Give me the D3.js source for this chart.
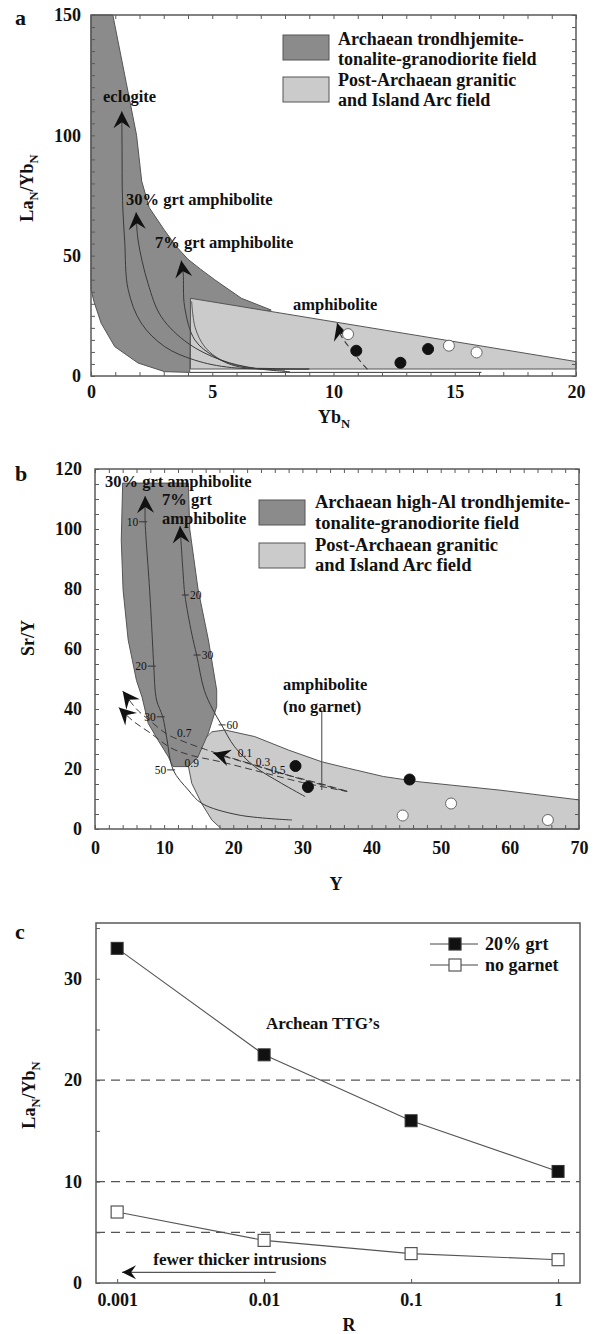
<!DOCTYPE html>
<html><head><meta charset="utf-8">
<script src="https://cdn.jsdelivr.net/npm/d3@7"></script>
<style>
body{margin:0;background:#fff}
svg text{font-family:"Liberation Serif","Times New Roman",serif;fill:#111}
</style></head><body>
<svg id="fig" width="598" height="1334"></svg>
<script>
// ---------- Panel a : LaN/YbN vs YbN ----------
const aXTicks = [0, 5, 10, 15, 20];
const aYTicks = [0, 50, 100, 150];
const aArchaeanField = [[0,150],[0.9,150],[1.45,122],[1.88,100],[2.09,81],[2.4,70],[3.0,61],[3.5,54],[4.0,48.5],[4.5,44.5],[5.1,40],[6.2,32.3],[7.43,27.4],[4.1,20],[4.07,1.5],[3.04,1.8],[1.94,5.4],[0.98,12.2],[0.42,21.9],[0.12,31],[0,36]];
const aPostArchaeanField = [[4.1,32.3],[20,6],[20,2.9],[4.1,2.9]];
const aBaseLine = [[4.07,1.5],[16.1,1.5]];
const aEclogite = [[1.27,110],[1.28,95],[1.3,73],[1.39,56],[1.53,36],[2.07,22],[3.04,12.2],[4.28,6.6],[5.8,3.5],[9,2.9]];
const aGrt30 = [[1.86,68],[1.94,56.5],[2.35,38.5],[2.9,24.6],[4.0,13.6],[5.37,6.6],[6.75,3.2],[8.2,1.8]];
const aGrt7 = [[3.72,48],[3.8,42.8],[3.86,28.8],[4.28,15],[5.1,8],[6.06,3.9],[7.5,3.1],[9,2.9]];
const aInner = [[4.15,31],[4.3,20],[4.7,12],[5.4,6.5],[6.5,3.5],[8,2.4]];
const aAmphibolite = [[10.15,22],[10.3,17],[10.8,10],[11.2,5],[11.5,1.8]];
const aFilledX = [10.94, 12.76, 13.9], aFilledY = [10.5, 5.5, 11.2];
const aOpenX = [10.6, 14.76, 15.9], aOpenY = [17.4, 12.6, 9.8];

// ---------- Panel b : Sr/Y vs Y ----------
const bXTicks = [0, 10, 20, 30, 40, 50, 60, 70];
const bYTicks = [0, 20, 40, 60, 80, 100, 120];
const bArchaeanField = [[4.0,115.3],[13.5,115.3],[13.7,100],[14.9,80],[16.4,63],[17.6,46.3],[17.6,40.8],[16.4,32],[14.9,24.1],[13.5,20.8],[11.3,20.8],[10.6,24.1],[9.1,29.7],[7.7,35.2],[6.8,44],[6.0,49.5],[4.8,63],[4.06,79.7],[3.8,96.3]];
const bPostArchaeanField = [[13.5,21],[14.5,27],[16.9,32.4],[18.8,33],[23.1,30.8],[28,26.3],[32.8,22.4],[36.7,20.2],[41.7,17.5],[47,15.7],[58.4,13],[70,9.7],[70,0],[18.3,0],[16.9,3],[15.4,8.6],[14,15.2]];
const bGrt30 = [[7.25,111],[7.25,102.4],[7.4,96.3],[7.9,79.7],[8.3,63],[8.5,54.3],[8.9,43],[9.8,37.4],[10.4,30],[11.3,19.7],[13.5,13],[15.4,8.6],[20.7,4.7],[28.5,3]];
const bGrt7 = [[12.3,101],[12.75,85],[13.0,78],[14.0,65],[14.7,58],[15.8,46.3],[17,40],[18.3,34.7],[20.2,27.4],[23.1,20.8],[27,15.2],[30.4,10.8]];
const bDash1 = [[4.0,46],[6,40],[8,36],[10.5,31.5],[13,29],[16,26.5],[20,23.5],[25,20],[30,16.5],[36.5,12.5]];
const bDash2 = [[3.45,40.5],[5.5,36],[8,32],[11,27],[14,24.5],[18,22.5],[24,19],[30,15.5],[36.5,12.5]];
const bDash3 = [[17.1,25.3],[22,22],[27,18.5],[32,15.5],[36.7,12.4]];
const bGrt30Marks = [["10",7.25,102.4],["20",8.5,54.3],["30",9.8,37.4],["50",11.3,19.7]];
const bGrt7Marks = [["20",13.0,78],["30",14.7,58],["60",18.3,34.7]];
const bMeltLabels = [["0.7",12.9,32],["0.9",14,22],["0.1",21.7,25.2],["0.3",24.3,22.4],["0.5",26.5,19.7]];
const bFilledX = [29, 30.8, 45.5], bFilledY = [21, 14, 16.5];
const bOpenX = [44.5, 51.5, 65.5], bOpenY = [4.5, 8.5, 3];

// ---------- Panel c : LaN/YbN vs R ----------
const cR = [0.001, 0.01, 0.1, 1];
const cRLabels = ["0.001", "0.01", "0.1", "1"];
const cYTicks = [0, 10, 20, 30];
const cGrt20 = [33, 22.5, 16, 11];
const cNoGarnet = [7, 4.2, 2.9, 2.3];
const cRefLines = [5, 10, 20];

const DARK = "#8b8b8b", LIGHT = "#cbcbcb", EDGE = "#555", FRAME = "#5a5a5a", INK = "#111";
const svg = d3.select("#fig");

function minorTicks(g, scale, orient, pos, values, size) {
  const ax = {bottom: d3.axisBottom, top: d3.axisTop, left: d3.axisLeft, right: d3.axisRight}[orient](scale)
    .tickValues(values).tickSize(-size).tickSizeOuter(0).tickFormat("");
  const t = (orient === "bottom" || orient === "top") ? `translate(0,${pos})` : `translate(${pos},0)`;
  const a = g.append("g").attr("transform", t).call(ax);
  a.select(".domain").remove();
  a.selectAll("line").attr("stroke", FRAME).attr("stroke-width", 1);
}
function labelAxis(g, scale, orient, pos, values, fmt, pad) {
  const ax = (orient === "bottom" ? d3.axisBottom : d3.axisLeft)(scale)
    .tickValues(values).tickSize(0).tickPadding(pad).tickFormat(fmt);
  const t = orient === "bottom" ? `translate(0,${pos})` : `translate(${pos},0)`;
  const a = g.append("g").attr("transform", t).call(ax);
  a.select(".domain").remove();
  a.selectAll("text").attr("font-size", 18).attr("font-weight", "bold")
    .attr("font-family", '"Liberation Serif",serif').attr("fill", INK);
}
function frame(g, x, y) {
  g.append("rect").attr("x", x.range()[0]).attr("y", y.range()[1])
    .attr("width", x.range()[1] - x.range()[0]).attr("height", y.range()[0] - y.range()[1])
    .attr("fill", "none").attr("stroke", FRAME).attr("stroke-width", 1.5);
}
function rich(g, parts, size) {
  const t = g.append("text").attr("font-size", size).attr("font-weight", "bold").attr("text-anchor", "middle");
  let down = false;
  parts.forEach(([s, sub]) => {
    const ts = t.append("tspan").text(s);
    if (sub) { ts.attr("font-size", size * 0.7); if (!down) { ts.attr("dy", 5); down = true; } }
    else if (down) { ts.attr("dy", -5); down = false; }
  });
  return t;
}
function chevron(g, x, y, tip, from) {
  const tx = x(tip[0]), ty = y(tip[1]), fx = x(from[0]), fy = y(from[1]);
  const ang = Math.atan2(tx - fx, -(ty - fy)) * 180 / Math.PI;
  g.append("path").attr("d", "M0,0 L8.5,17 L0,11 L-8.5,17Z")
    .attr("transform", `translate(${tx},${ty}) rotate(${ang})`).attr("fill", INK);
}
function poly(g, x, y, pts, fill) {
  g.append("path").attr("d", d3.line().x(d => x(d[0])).y(d => y(d[1])).curve(d3.curveLinearClosed)(pts))
    .attr("fill", fill).attr("stroke", EDGE).attr("stroke-width", 1);
}
function curve(g, x, y, pts, dash, w) {
  g.append("path").attr("d", d3.line().x(d => x(d[0])).y(d => y(d[1])).curve(d3.curveCatmullRom.alpha(0.5))(pts))
    .attr("fill", "none").attr("stroke", "#3a3a3a").attr("stroke-width", w || 1)
    .attr("stroke-dasharray", dash || null);
}
function txt(g, s, px, py, size, opts) {
  const t = g.append("text").attr("x", px).attr("y", py).attr("font-size", size).text(s);
  t.attr("font-weight", (opts && opts.normal) ? "normal" : "bold");
  if (opts && opts.anchor) t.attr("text-anchor", opts.anchor);
  return t;
}
function dots(g, x, y, xs, ys, filled) {
  g.selectAll(null).data(xs.map((v, i) => [v, ys[i]])).join("circle")
    .attr("cx", d => x(d[0])).attr("cy", d => y(d[1])).attr("r", 5.5)
    .attr("fill", filled ? INK : "#fff").attr("stroke", filled ? INK : "#666").attr("stroke-width", 1);
}
function legendBox(g, bx, by, fill) {
  g.append("rect").attr("x", bx).attr("y", by).attr("width", 46).attr("height", 25)
    .attr("fill", fill).attr("stroke", EDGE).attr("stroke-width", 1);
}

// ================= Panel a =================
{
  const g = svg.append("g");
  const x = d3.scaleLinear().domain([0, 20]).range([91, 576]);
  const y = d3.scaleLinear().domain([0, 150]).range([376, 15]);
  poly(g, x, y, aArchaeanField, DARK);
  poly(g, x, y, aPostArchaeanField, LIGHT);
  curve(g, x, y, aBaseLine);
  curve(g, x, y, aEclogite);
  curve(g, x, y, aGrt30);
  curve(g, x, y, aGrt7);
  curve(g, x, y, aInner, null, 0.8);
  curve(g, x, y, aAmphibolite, "6,4", 1.1);
  chevron(g, x, y, aEclogite[0], aEclogite[1]);
  chevron(g, x, y, aGrt30[0], aGrt30[1]);
  chevron(g, x, y, aGrt7[0], aGrt7[1]);
  chevron(g, x, y, aAmphibolite[0], aAmphibolite[1]);
  dots(g, x, y, aOpenX, aOpenY, false);
  dots(g, x, y, aFilledX, aFilledY, true);
  frame(g, x, y);
  minorTicks(g, x, "bottom", 376, d3.range(0, 21, 1), 4);
  minorTicks(g, x, "top", 15, d3.range(0, 21, 1), 4);
  minorTicks(g, y, "left", 91, d3.range(0, 151, 5), 4);
  minorTicks(g, y, "right", 576, d3.range(0, 151, 5), 4);
  labelAxis(g, x, "bottom", 376, aXTicks, d3.format("d"), 9);
  labelAxis(g, y, "left", 91, aYTicks, d3.format("d"), 10);
  txt(g, "eclogite", 103, 102, 16.5);
  txt(g, "30% grt amphibolite", 126, 205, 16.5);
  txt(g, "7% grt amphibolite", 155, 248, 16.5);
  txt(g, "amphibolite", 293, 310, 16.5);
  legendBox(g, 283, 35, DARK);
  legendBox(g, 283, 77, LIGHT);
  txt(g, "Archaean trondhjemite-", 338, 45, 18);
  txt(g, "tonalite-granodiorite field", 338, 65, 18);
  txt(g, "Post-Archaean granitic", 338, 86, 18);
  txt(g, "and Island Arc field", 338, 106, 18);
  rich(g, [["Yb", false], ["N", true]], 18).attr("x", 334).attr("y", 423);
  rich(g, [["La", false], ["N", true], ["/Yb", false], ["N", true]], 18)
    .attr("transform", "translate(33,188) rotate(-90)");
  txt(g, "a", 15, 25, 22);
}

// ================= Panel b =================
{
  const g = svg.append("g");
  const x = d3.scaleLinear().domain([0, 70]).range([95, 579]);
  const y = d3.scaleLinear().domain([0, 120]).range([829, 469]);
  poly(g, x, y, bPostArchaeanField, LIGHT);
  poly(g, x, y, bArchaeanField, DARK);
  curve(g, x, y, bGrt30);
  curve(g, x, y, bGrt7);
  curve(g, x, y, bDash1, "7,4", 1);
  curve(g, x, y, bDash2, "7,4", 1);
  curve(g, x, y, bDash3, "7,4", 1.1);
  chevron(g, x, y, bGrt30[0], bGrt30[2]);
  chevron(g, x, y, bGrt7[0], bGrt7[1]);
  chevron(g, x, y, bDash1[0], bDash1[1]);
  chevron(g, x, y, bDash2[0], bDash2[1]);
  chevron(g, x, y, bDash3[0], bDash3[1]);
  bGrt30Marks.forEach(([s, vx, vy]) => {
    g.append("line").attr("x1", x(vx) - 6).attr("x2", x(vx) + 2).attr("y1", y(vy)).attr("y2", y(vy)).attr("stroke", "#333");
    txt(g, s, x(vx) - 7, y(vy) + 4, 11.5, {normal: true, anchor: "end"});
  });
  bGrt7Marks.forEach(([s, vx, vy]) => {
    g.append("line").attr("x1", x(vx) - 3).attr("x2", x(vx) + 4).attr("y1", y(vy)).attr("y2", y(vy)).attr("stroke", "#333");
    txt(g, s, x(vx) + 5, y(vy) + 4, 11.5, {normal: true});
  });
  bMeltLabels.forEach(([s, vx, vy]) => txt(g, s, x(vx), y(vy) + 4, 11.5, {normal: true, anchor: "middle"}));
  // leader for the amphibolite (no garnet) label
  g.append("line").attr("x1", x(32.8)).attr("x2", x(32.8)).attr("y1", y(39.5)).attr("y2", y(13))
    .attr("stroke", "#444").attr("stroke-width", 1);
  dots(g, x, y, bOpenX, bOpenY, false);
  dots(g, x, y, bFilledX, bFilledY, true);
  frame(g, x, y);
  minorTicks(g, x, "bottom", 829, d3.range(0, 71, 2), 4);
  minorTicks(g, x, "top", 469, d3.range(0, 71, 2), 4);
  minorTicks(g, y, "left", 95, d3.range(0, 121, 5), 4);
  minorTicks(g, y, "right", 579, d3.range(0, 121, 5), 4);
  labelAxis(g, x, "bottom", 829, bXTicks, d3.format("d"), 12);
  labelAxis(g, y, "left", 95, bYTicks, d3.format("d"), 13);
  txt(g, "30% grt amphibolite", 105, 487, 16.5);
  txt(g, "7% grt", 162, 505, 16.5);
  txt(g, "amphibolite", 162, 524, 16.5);
  txt(g, "amphibolite", 283, 690, 16.5);
  txt(g, "(no garnet)", 283, 712, 16.5);
  legendBox(g, 259, 500, DARK);
  legendBox(g, 259, 543, LIGHT);
  txt(g, "Archaean high-Al trondhjemite-", 315, 508, 18.5);
  txt(g, "tonalite-granodiorite field", 315, 529, 18.5);
  txt(g, "Post-Archaean granitic", 315, 551, 18.5);
  txt(g, "and Island Arc field", 315, 571, 18.5);
  txt(g, "Y", 336, 890, 18, {anchor: "middle"});
  txt(g, "Sr/Y", 0, 0, 18, {anchor: "middle"}).attr("transform", "translate(34,638) rotate(-90)");
  txt(g, "b", 15, 481, 22);
}

// ================= Panel c =================
{
  const g = svg.append("g");
  const x = d3.scaleLog().domain([0.000718, 1.41]).range([96, 580]);
  const y = d3.scaleLinear().domain([0, 35.5]).range([1283, 923]);
  g.selectAll(null).data(cRefLines).join("line")
    .attr("x1", 96).attr("x2", 580).attr("y1", d => y(d)).attr("y2", d => y(d))
    .attr("stroke", "#555").attr("stroke-width", 1.2).attr("stroke-dasharray", "9,6");
  const ln = d3.line().x((d, i) => x(cR[i])).y(d => y(d));
  g.append("path").attr("d", ln(cGrt20)).attr("fill", "none").attr("stroke", "#555").attr("stroke-width", 1.1);
  g.append("path").attr("d", ln(cNoGarnet)).attr("fill", "none").attr("stroke", "#555").attr("stroke-width", 1.1);
  g.selectAll(null).data(cGrt20).join("rect")
    .attr("x", (d, i) => x(cR[i]) - 6).attr("y", d => y(d) - 6).attr("width", 12).attr("height", 12)
    .attr("fill", INK).attr("stroke", "#333");
  g.selectAll(null).data(cNoGarnet).join("rect")
    .attr("x", (d, i) => x(cR[i]) - 6).attr("y", d => y(d) - 6).attr("width", 12).attr("height", 12)
    .attr("fill", "#fff").attr("stroke", "#555").attr("stroke-width", 1.2);
  // arrow: fewer thicker intrusions
  g.append("line").attr("x1", x(0.012)).attr("x2", x(0.00108)).attr("y1", y(1.05)).attr("y2", y(1.05))
    .attr("stroke", "#555").attr("stroke-width", 1.3);
  g.append("path").attr("d", "M0,0 L14,-7 L9,0 L14,7Z").attr("fill", INK)
    .attr("transform", `translate(${x(0.00108)},${y(1.05)})`);
  txt(g, "fewer thicker intrusions", x(0.00176), y(1.75), 17);
  txt(g, "Archean TTG\u2019s", x(0.0103), y(25), 17);
  // legend
  [["20% grt", true, 944], ["no garnet", false, 965]].forEach(([s, f, ly]) => {
    g.append("line").attr("x1", 430).attr("x2", 478).attr("y1", ly).attr("y2", ly).attr("stroke", "#444");
    g.append("rect").attr("x", 449).attr("y", ly - 6).attr("width", 12).attr("height", 12)
      .attr("fill", f ? INK : "#fff").attr("stroke", f ? "#333" : "#555").attr("stroke-width", 1.2);
    txt(g, s, 485, ly + 6, 18);
  });
  frame(g, x, y);
  minorTicks(g, y, "left", 96, d3.range(0, 36, 5), 4);
  minorTicks(g, x, "bottom", 1283, cR, 4);
  labelAxis(g, x, "bottom", 1283, cR, (d, i) => cRLabels[i], 10);
  labelAxis(g, y, "left", 96, cYTicks, d3.format("d"), 14);
  txt(g, "R", 349, 1331, 18, {anchor: "middle"});
  rich(g, [["La", false], ["N", true], ["/Yb", false], ["N", true]], 18)
    .attr("transform", "translate(35,1095) rotate(-90)");
  txt(g, "c", 15, 939, 22);
}
</script>
</body></html>
